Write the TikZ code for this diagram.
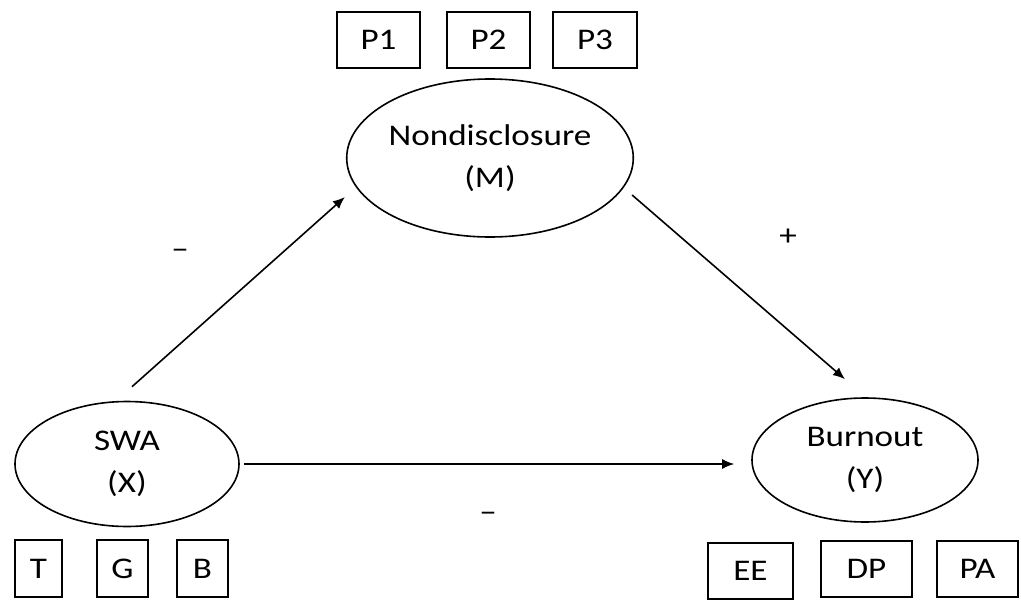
\documentclass[tikz,border=0pt]{standalone}
\usepackage{fontspec}
\setmainfont{Carlito}[FakeStretch=1.17]
\usetikzlibrary{shapes.geometric,arrows.meta}
\tikzset{
  every node/.style={font=\fontsize{30}{42}\selectfont, text=black},
  latent/.style={draw=black, line width=1.6pt, ellipse, inner sep=0pt, align=center},
  indic/.style={draw=black, line width=1.6pt, rectangle, inner sep=0pt, minimum height=56pt},
  path/.style={draw=black, line width=1.6pt, -{Latex[length=12pt,width=10pt]}},
  sign/.style={inner sep=0pt}
}
\begin{document}
\begin{tikzpicture}[x=1pt,y=-1pt]
\useasboundingbox (0,0) rectangle (1021,613);
\fill[white] (0,0) rectangle (1021,613);
% latent variables
\node[latent, minimum width=274pt, minimum height=158pt] (M) at (490,158) {Nondisclosure\\(M)};
\node[latent, minimum width=224pt, minimum height=125pt] (X) at (127,464) {SWA\\(X)};
\node[latent, minimum width=226pt, minimum height=124pt] (Y) at (865,460) {Burnout\\(Y)};
% indicators
\node[indic, minimum width=83pt] (P1) at (378.5,40) {P1};
\node[indic, minimum width=83pt] (P2) at (488.5,40) {P2};
\node[indic, minimum width=84pt] (P3) at (595,40) {P3};
\node[indic, minimum width=47pt, minimum height=57pt] (T) at (38.5,568.5) {T};
\node[indic, minimum width=51pt, minimum height=57pt] (G) at (122.5,568.5) {G};
\node[indic, minimum width=51pt, minimum height=57pt] (B) at (202.5,568.5) {B};
\node[indic, minimum width=85pt] (EE) at (750.5,571) {EE};
\node[indic, minimum width=91pt] (DP) at (866.5,569) {DP};
\node[indic, minimum width=81pt] (PA) at (977.5,569) {PA};
% paths
\draw[path] ([shift={(5,-14)}]X.north) -- ([shift={(-1,39)}]M.west);
\draw[path] ([shift={(-2,37)}]M.east) -- ([shift={(-20,-18)}]Y.north);
\draw[path] ([shift={(4,0)}]X.east) -- ([shift={(-17,4)}]Y.west);
% signs
\node[sign] (sXM) at (180,254) {–};
\node[sign] (sMY) at (788,237) {+};
\node[sign] (sXY) at (488,517) {–};
\end{tikzpicture}
\end{document}
